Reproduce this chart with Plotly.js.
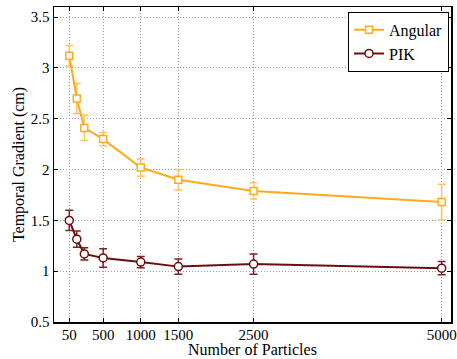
<!DOCTYPE html>
<html>
<head>
<meta charset="utf-8">
<script src="https://cdn.plot.ly/plotly-3.0.1.min.js"></script>
<style>html,body{margin:0;padding:0;background:#fff;}#chart{width:457px;height:359px;}</style>
</head>
<body>
<div id="chart"></div>
<script>
const particles = [50, 150, 250, 500, 1000, 1500, 2500, 5000];
const angular = [3.12, 2.70, 2.41, 2.30, 2.02, 1.90, 1.79, 1.68];
const angularErr = [0.10, 0.15, 0.125, 0.065, 0.085, 0.10, 0.08, 0.175];
const pik = [1.50, 1.315, 1.17, 1.13, 1.09, 1.045, 1.07, 1.03];
const pikErr = [0.10, 0.08, 0.06, 0.09, 0.055, 0.075, 0.10, 0.065];
const xTicks = [50, 500, 1000, 1500, 2500, 5000];
const yTicks = [0.5, 1, 1.5, 2, 2.5, 3, 3.5];
const xTitle = 'Number of Particles';
const yTitle = 'Temporal Gradient (cm)';

const fam = '"Liberation Serif", "Times New Roman", serif';
const font = {family: fam, size: 16, color: '#000'};
const tickFont = {family: fam, size: 15, color: '#000'};

const traces = [
  {
    x: particles, y: angular, name: 'Angular', type: 'scatter', mode: 'lines+markers',
    line: {color: '#FFAA1E', width: 2},
    marker: {symbol: 'square', size: 7, color: '#ffffff', line: {width: 1.5, color: '#FFAA1E'}},
    error_y: {type: 'data', array: angularErr, visible: true, color: '#FFC45A', thickness: 1.5, width: 4}
  },
  {
    x: particles, y: pik, name: 'PIK', type: 'scatter', mode: 'lines+markers',
    line: {color: '#6A0F0F', width: 2},
    marker: {symbol: 'circle', size: 8, color: '#ffffff', line: {width: 1.5, color: '#6A0F0F'}},
    error_y: {type: 'data', array: pikErr, visible: true, color: '#7A2525', thickness: 1.5, width: 4}
  }
];

const layout = {
  width: 457, height: 359,
  margin: {l: 54, r: 6, t: 7, b: 37},
  paper_bgcolor: '#fff', plot_bgcolor: '#fff',
  font: font,
  showlegend: true,
  legend: {
    x: 0.995, y: 0.985, xanchor: 'right', yanchor: 'top',
    bgcolor: '#fff', bordercolor: '#000', borderwidth: 1,
    font: font, tracegroupgap: 0, itemwidth: 30
  },
  xaxis: {
    range: [-153, 5124], tickvals: xTicks, ticktext: xTicks.map(String),
    showgrid: true, gridcolor: '#9a9a9a', griddash: '1px,2px', gridwidth: 1,
    zeroline: false, showline: true, linecolor: '#000', linewidth: 1.5,
    mirror: 'ticks', ticks: 'inside', ticklen: 4, tickcolor: '#000',
    tickfont: tickFont, ticklabeloverflow: 'allow', automargin: false,
    ticklabelstandoff: -2
  },
  yaxis: {
    range: [0.5, 3.6], tickvals: yTicks, ticktext: yTicks.map(String),
    showgrid: true, gridcolor: '#9a9a9a', griddash: '1px,2px', gridwidth: 1,
    zeroline: false, showline: true, linecolor: '#000', linewidth: 1.5,
    mirror: 'ticks', ticks: 'inside', ticklen: 4, tickcolor: '#000',
    tickfont: tickFont, automargin: false,
    title: {text: yTitle, font: font, standoff: 2}
  },
  annotations: [{
    text: xTitle, xref: 'paper', yref: 'paper', x: 0.5, y: 0,
    xanchor: 'center', yanchor: 'top', yshift: -17, showarrow: false, font: font
  }]
};

Plotly.newPlot('chart', traces, layout, {displayModeBar: false, staticPlot: true});
</script>
</body>
</html>
